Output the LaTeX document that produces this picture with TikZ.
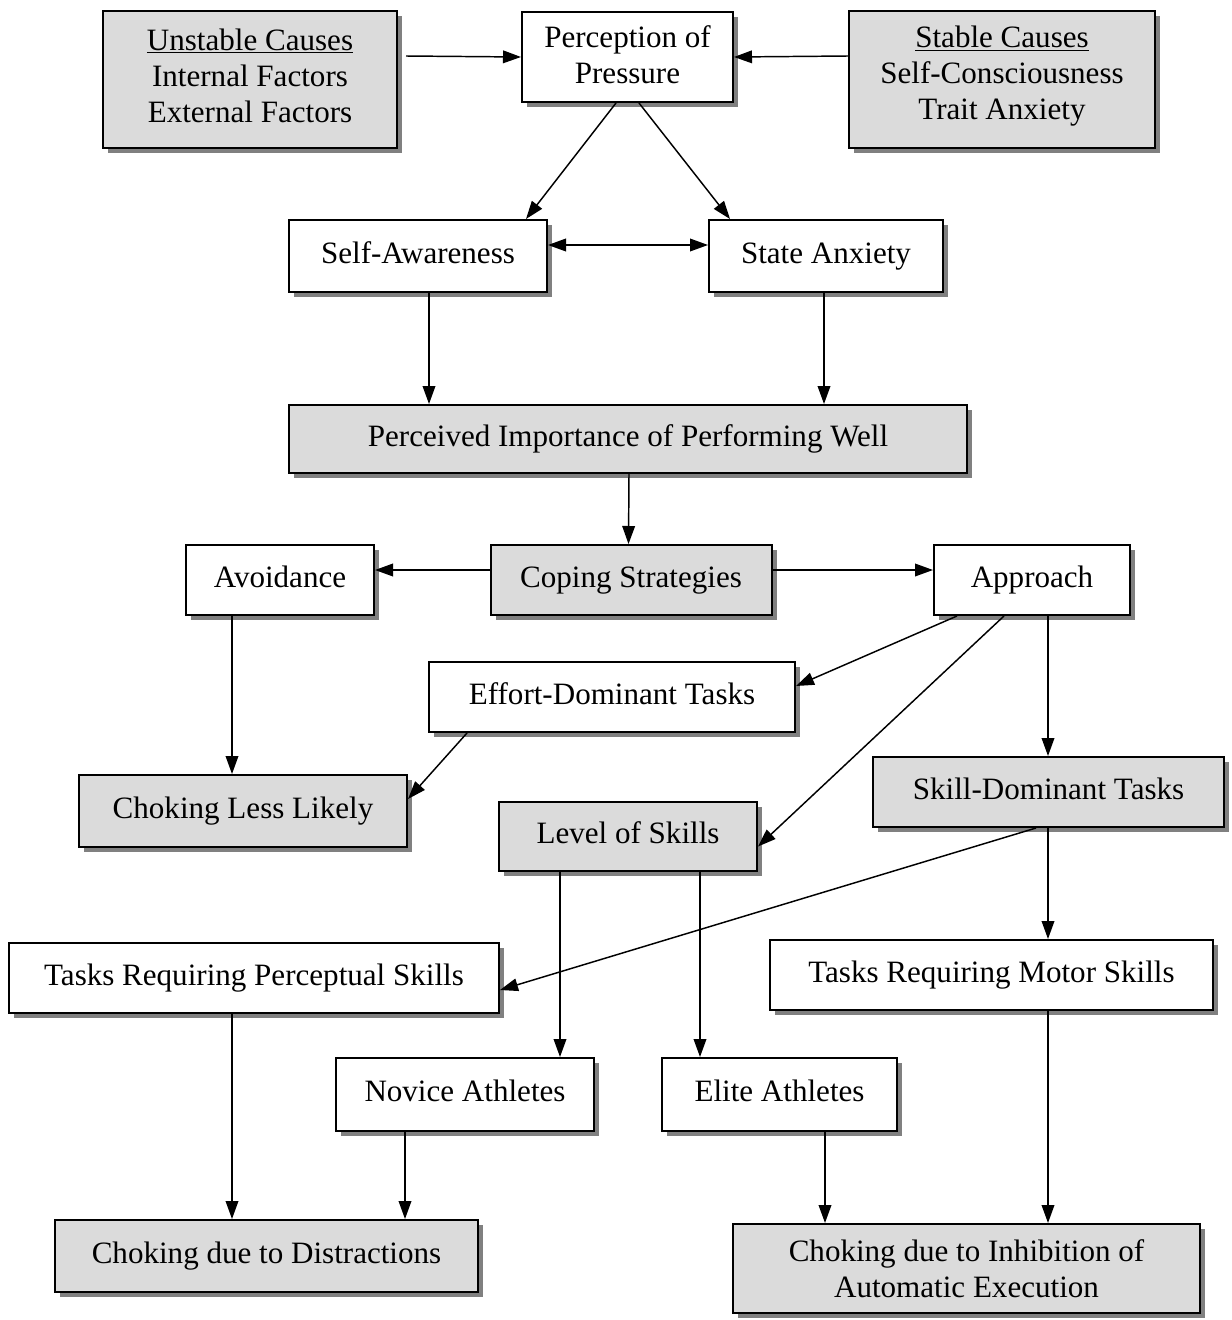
\documentclass[tikz,border=0pt]{standalone}
\usepackage{fontspec}
\setmainfont{Liberation Serif}
\usetikzlibrary{arrows.meta,shadows,calc}
\newcommand{\dpstrut}[1]{\rule[-#1]{0pt}{1pt}}
\begin{document}
\begin{tikzpicture}[x=0.75pt,y=-0.75pt,
 box/.style={draw=black,line width=1.5pt,inner sep=0pt,align=center,
   font=\fontsize{23.3pt}{27pt}\selectfont,
   drop shadow={shadow xshift=3.75pt,shadow yshift=-3.75pt,fill=black!50,opacity=1,draw=none}},
 one/.style={text height=16pt,text depth=5.5pt},
 wbox/.style={box,one,fill=white},
 gbox/.style={box,one,fill=black!14},
 mwbox/.style={box,fill=white},
 mgbox/.style={box,fill=black!14},
 sz/.style 2 args={minimum width=#1*0.75pt,minimum height=#2*0.75pt},
 arr/.style={line width=1.1pt,-{Triangle[length=13.5pt,width=9.5pt]}},
 darr/.style={line width=1.1pt,{Triangle[length=13.5pt,width=9.5pt]}-{Triangle[length=13.5pt,width=9.5pt]}}]
\useasboundingbox (0,0) rectangle (1231,1320);
\node[mgbox,sz={294}{137}] (uc) at (250,79.5) {\underline{Unstable Causes}\\Internal Factors\\External Factors\dpstrut{6pt}};
\node[mwbox,sz={211}{90}] (pp) at (627.5,57) {Perception of\\Pressure\dpstrut{3pt}};
\node[mgbox,sz={306}{137}] (sc) at (1002,79.5) {\underline{Stable Causes}\\Self-Consciousness\\Trait Anxiety\dpstrut{9.5pt}};
\node[wbox,sz={258}{72}] (sa) at (418,256) {Self-Awareness};
\node[wbox,sz={234}{72}] (sx) at (826,256) {State Anxiety};
\node[gbox,sz={678}{68}] (pi) at (628,439) {Perceived Importance of Performing Well};
\node[wbox,sz={188}{70}] (av) at (280,580) {Avoidance};
\node[gbox,sz={281}{70}] (cs) at (631,580) {Coping Strategies};
\node[wbox,sz={196}{70}] (ap) at (1032,580) {Approach};
\node[wbox,sz={366}{70}] (ed) at (612,697) {Effort-Dominant Tasks};
\node[gbox,sz={328}{72}] (cl) at (243,811) {Choking Less Likely};
\node[gbox,sz={258}{69}] (ls) at (628,836.5) {Level of Skills};
\node[gbox,sz={351}{70}] (sd) at (1048.5,792) {Skill-Dominant Tasks};
\node[wbox,sz={490}{70}] (tp) at (254,978) {Tasks Requiring Perceptual Skills};
\node[wbox,sz={443}{70}] (tm) at (991.5,975) {Tasks Requiring Motor Skills};
\node[wbox,sz={258}{73}] (na) at (465,1094.5) {Novice Athletes};
\node[wbox,sz={235}{73}] (ea) at (779.5,1094.5) {Elite Athletes};
\node[gbox,sz={423}{72}] (cd) at (266.5,1256) {Choking due to Distractions};
\node[mgbox,sz={467}{89}] (ci) at (966.5,1268.5) {Choking due to Inhibition of\\Automatic Execution};

\draw[arr] ($(uc.north east)+(8,46)$) -- (pp.west);
\draw[arr] ($(sc.north west)+(0,46)$) -- (pp.east);
\draw[arr] ($(pp.south west)+(95,0)$) -- ($(sa.north west)+(238,0)$);
\draw[arr] ($(pp.south west)+(118,0)$) -- ($(sx.north west)+(22,0)$);
\draw[darr] ($(sa.east)+(0,-11)$) -- ($(sx.west)+(0,-11)$);
\draw[arr] ($(sa.south west)+(141,0)$) -- ($(pi.north west)+(141,0)$);
\draw[arr] ($(sx.south west)+(116,0)$) -- ($(pi.north west)+(536,0)$);
\draw[arr] ($(pi.south west)+(341,0)$) -- ($(cs.north west)+(139,0)$);
\draw[arr] ($(cs.west)+(0,-10)$) -- ($(av.east)+(0,-10)$);
\draw[arr] ($(cs.east)+(0,-10)$) -- ($(ap.west)+(0,-10)$);
\draw[arr] ($(ap.south west)+(24,0)$) -- ($(ed.east)+(0,-11)$);
\draw[arr] ($(ap.south west)+(71,0)$) -- ($(ls.east)+(0,10)$);
\draw[arr] ($(ap.south west)+(115,0)$) -- ($(sd.north west)+(176,0)$);
\draw[arr] ($(av.south west)+(47,0)$) -- ($(cl.north west)+(154,0)$);
\draw[arr] ($(ed.south west)+(39,0)$) -- ($(cl.east)+(0,-12)$);
\draw[arr] ($(sd.south west)+(164,0)$) -- ($(tp.east)+(0,12)$);
\draw[arr] ($(sd.south west)+(176,0)$) -- ($(tm.north west)+(279,0)$);
\draw[arr] ($(ls.south west)+(62,0)$) -- ($(na.north west)+(225,0)$);
\draw[arr] ($(ls.south west)+(202,0)$) -- ($(ea.north west)+(39,0)$);
\draw[arr] ($(tp.south west)+(224,0)$) -- ($(cd.north west)+(178,0)$);
\draw[arr] ($(na.south west)+(70,0)$) -- ($(cd.north west)+(351,0)$);
\draw[arr] ($(ea.south west)+(164,0)$) -- ($(ci.north west)+(93,0)$);
\draw[arr] ($(tm.south west)+(279,0)$) -- ($(ci.north west)+(316,0)$);
\end{tikzpicture}
\end{document}
